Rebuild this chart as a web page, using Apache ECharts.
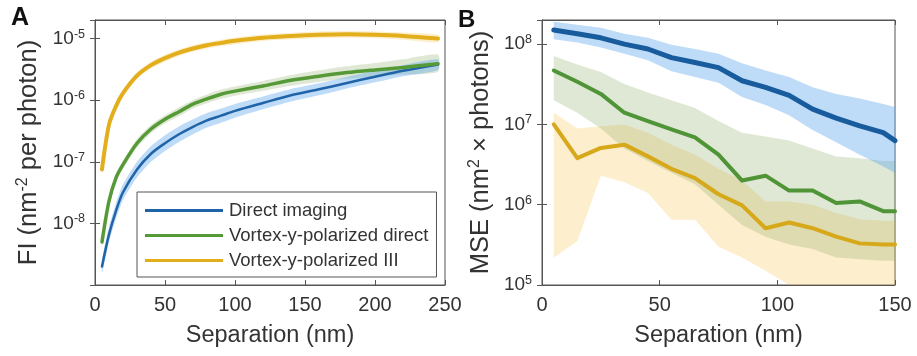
<!DOCTYPE html>
<html><head><meta charset="utf-8">
<script src="https://cdn.jsdelivr.net/npm/echarts@6/dist/echarts.min.js"></script>
<style>html,body{margin:0;padding:0;background:#fff}#c{width:917px;height:356px}</style>
</head><body><div id="c"></div>
<script>
// ---------- Panel A data ----------
const sepA = [5, 10, 15, 20, 30, 40, 50, 60, 70, 80, 90, 100, 120, 140, 160, 180, 200, 220, 245];
const fiDirect = [2e-9, 6.6e-9, 1.6e-8, 3.2e-8, 7.5e-8, 1.35e-7, 2e-7, 2.8e-7, 3.7e-7, 4.7e-7, 5.6e-7, 6.7e-7, 9e-7, 1.2e-6, 1.5e-6, 1.9e-6, 2.4e-6, 3.0e-6, 3.8e-6];
const fiDirectLo = [1.55e-9, 5.0e-9, 1.2e-8, 2.4e-8, 5.6e-8, 1.0e-7, 1.5e-7, 2.1e-7, 2.8e-7, 3.6e-7, 4.3e-7, 5.2e-7, 7.1e-7, 9.5e-7, 1.2e-6, 1.55e-6, 1.95e-6, 2.45e-6, 3.1e-6];
const fiDirectHi = [2.6e-9, 8.8e-9, 2.15e-8, 4.3e-8, 1.0e-7, 1.8e-7, 2.7e-7, 3.75e-7, 4.9e-7, 6.2e-7, 7.3e-7, 8.7e-7, 1.15e-6, 1.52e-6, 1.88e-6, 2.38e-6, 3.0e-6, 3.7e-6, 4.6e-6];
const fiVortexDirect = [5e-9, 2.3e-8, 5.5e-8, 9e-8, 2e-7, 3.4e-7, 4.9e-7, 6.5e-7, 8.6e-7, 1.05e-6, 1.25e-6, 1.4e-6, 1.7e-6, 2.1e-6, 2.45e-6, 2.8e-6, 3.1e-6, 3.4e-6, 3.9e-6];
const fiVortexDirectLo = [4.2e-9, 1.95e-8, 4.7e-8, 7.7e-8, 1.7e-7, 2.9e-7, 4.2e-7, 5.5e-7, 7.3e-7, 8.9e-7, 1.05e-6, 1.18e-6, 1.42e-6, 1.72e-6, 1.98e-6, 2.22e-6, 2.42e-6, 2.6e-6, 2.9e-6];
const fiVortexDirectHi = [6e-9, 2.7e-8, 6.4e-8, 1.05e-7, 2.35e-7, 4e-7, 5.7e-7, 7.7e-7, 1.01e-6, 1.24e-6, 1.49e-6, 1.67e-6, 2.05e-6, 2.55e-6, 3.05e-6, 3.55e-6, 4.0e-6, 4.6e-6, 5.5e-6];
const fiVortexIII = [7.5e-8, 4e-7, 8e-7, 1.3e-6, 2.5e-6, 3.7e-6, 4.8e-6, 5.9e-6, 6.9e-6, 7.8e-6, 8.5e-6, 9.2e-6, 1.03e-5, 1.1e-5, 1.15e-5, 1.17e-5, 1.15e-5, 1.1e-5, 1.0e-5];
const fiVortexIIILo = [6.5e-8, 3.5e-7, 7e-7, 1.15e-6, 2.2e-6, 3.25e-6, 4.2e-6, 5.2e-6, 6.1e-6, 6.9e-6, 7.5e-6, 8.1e-6, 9.1e-6, 9.7e-6, 1.01e-5, 1.03e-5, 1.01e-5, 9.6e-6, 8.7e-6];
const fiVortexIIIHi = [8.6e-8, 4.6e-7, 9.1e-7, 1.48e-6, 2.85e-6, 4.2e-6, 5.45e-6, 6.7e-6, 7.8e-6, 8.8e-6, 9.6e-6, 1.04e-5, 1.16e-5, 1.24e-5, 1.3e-5, 1.32e-5, 1.3e-5, 1.25e-5, 1.15e-5];

// ---------- Panel B data ----------
const sepB = [5, 15, 25, 35, 45, 55, 65, 75, 85, 95, 105, 115, 125, 135, 145, 150];
const mseDirect = [1.5e8, 1.35e8, 1.2e8, 1.0e8, 8.7e7, 6.8e7, 5.9e7, 5.1e7, 3.5e7, 2.9e7, 2.3e7, 1.55e7, 1.2e7, 9.6e6, 7.9e6, 6.3e6];
const mseDirectLo = [1.15e8, 1.05e8, 9.1e7, 7.6e7, 6.3e7, 4.6e7, 3.9e7, 3.3e7, 2.2e7, 1.75e7, 1.3e7, 8.5e6, 6.0e6, 4.2e6, 3.0e6, 2.5e6];
const mseDirectHi = [1.9e8, 1.75e8, 1.6e8, 1.35e8, 1.2e8, 9.8e7, 8.7e7, 7.6e7, 5.8e7, 4.7e7, 3.9e7, 2.9e7, 2.4e7, 2.1e7, 1.8e7, 1.65e7];
const mseVortexDirect = [4.7e7, 3.4e7, 2.4e7, 1.4e7, 1.1e7, 8.7e6, 6.9e6, 4.2e6, 2.0e6, 2.3e6, 1.5e6, 1.5e6, 1.05e6, 1.1e6, 8.3e5, 8.3e5];
const mseVortexDirectLo = [2.0e7, 1.4e7, 8.9e6, 5.0e6, 3.5e6, 2.5e6, 1.8e6, 1.0e6, 5.6e5, 4.0e5, 3.2e5, 2.8e5, 2.2e5, 2.1e5, 2.0e5, 2.0e5];
const mseVortexDirectHi = [7.1e7, 5.6e7, 4.5e7, 3.2e7, 2.5e7, 2.0e7, 1.6e7, 1.1e7, 7.9e6, 7.1e6, 6.3e6, 5.0e6, 4.0e6, 3.8e6, 3.5e6, 3.5e6];
const mseVortexIII = [1.0e7, 3.8e6, 5.1e6, 5.6e6, 4.0e6, 2.8e6, 2.15e6, 1.35e6, 9.8e5, 5.1e5, 6.0e5, 5.1e5, 4.0e5, 3.3e5, 3.2e5, 3.2e5];
const mseVortexIIILo = [2.2e5, 3.5e5, 2.3e6, 1.9e6, 1.4e6, 6.5e5, 6.5e5, 3.0e5, 2.2e5, 1.5e5, 1e5, 1e5, 1e5, 1e5, 1e5, 1e5];
const mseVortexIIIHi = [1.4e7, 8.9e6, 9.5e6, 1.0e7, 7.9e6, 5.6e6, 4.2e6, 2.8e6, 2.0e6, 1.1e6, 1.1e6, 1.0e6, 7.9e5, 6.6e5, 6.3e5, 6.3e5];

// ---------- labels ----------
const legendNames = ['Direct imaging', 'Vortex-y-polarized direct', 'Vortex-y-polarized III'];
const xTitle = 'Separation (nm)';
const yTitleA = 'FI (nm{s|-2} per photon)';
const yTitleB = 'MSE (nm{s|2} \u00d7 photons)';

// ---------- styling ----------
const FONT = 'Liberation Sans, Arial, sans-serif';
const TXT = '#333';
const AXC = '#555';
const C = {
  blue: '#1f64a8', green: '#559a36', yellow: '#e2ae1c',
  blueBand: 'rgba(100,170,235,0.42)', greenBand: 'rgba(120,160,80,0.24)', yellowBand: 'rgba(250,200,90,0.30)'
};

function pairs(xs, ys) { return xs.map((x, i) => [x, ys[i]]); }

// band drawn as a single polygon through the axis scales (api.coord)
function band(id, xs, lo, hi, color, xi, yi, smooth) {
  return {
    type: 'custom', name: id, xAxisIndex: xi, yAxisIndex: yi, silent: true, z: 1, clip: true,
    data: xs.map((x, i) => [x, lo[i], hi[i]]),
    encode: { x: 0, y: [1, 2] },
    renderItem: function (params, api) {
      if (params.dataIndex !== 0) return null;
      const top = xs.map((x, i) => api.coord([x, hi[i]]));
      const bot = xs.map((x, i) => api.coord([x, lo[i]])).reverse();
      return {
        type: 'polygon',
        shape: { points: top.concat(bot), smooth: smooth },
        style: { fill: color, stroke: null },
        clipPath: { type: 'rect', shape: { x: params.coordSys.x, y: params.coordSys.y, width: params.coordSys.width, height: params.coordSys.height } }
      };
    }
  };
}
function line(name, xs, ys, color, width, xi, yi, smooth) {
  return { type: 'line', name: name, xAxisIndex: xi, yAxisIndex: yi, data: pairs(xs, ys), symbol: 'none',
    smooth: smooth, color: color, lineStyle: { color: color, width: width, cap: 'round', join: 'round' }, z: 3 };
}

const supRich = {
  b: { fontSize: 19, color: TXT, fontFamily: FONT },
  s: { fontSize: 12.5, color: TXT, fontFamily: FONT, verticalAlign: 'bottom', padding: [0, 0, 9, 0] }
};
function expLabel(v) {
  const e = Math.round(Math.log10(v));
  return '{b|10}{s|' + e + '}';
}

function xMain(grid, max) {
  return { type: 'value', gridIndex: grid, min: 0, max: max, interval: 50, position: 'bottom',
    name: xTitle, nameLocation: 'middle', nameGap: 39,
    nameTextStyle: { fontSize: 23.5, color: TXT, fontFamily: FONT },
    axisLine: { show: true, lineStyle: { color: AXC, width: 1 } },
    axisTick: { show: true, inside: true, length: 5, lineStyle: { color: AXC } },
    axisLabel: { fontSize: 20, color: TXT, fontFamily: FONT, margin: 10 },
    splitLine: { show: false } };
}
function xTop(grid, max) {
  return { type: 'value', gridIndex: grid, min: 0, max: max, interval: 50, position: 'top',
    axisLine: { show: true, lineStyle: { color: AXC, width: 1 } },
    axisTick: { show: true, inside: true, length: 5, lineStyle: { color: AXC } },
    axisLabel: { show: false }, splitLine: { show: false } };
}
function yMain(grid, min, max, title, gap) {
  return { type: 'log', logBase: 10, gridIndex: grid, min: min, max: max, position: 'left',
    name: title, nameLocation: 'middle', nameGap: gap,
    nameTextStyle: { fontSize: 25.5, color: TXT, fontFamily: FONT,
      rich: { s: { fontSize: 16, color: TXT, fontFamily: FONT, verticalAlign: 'bottom', padding: [0, 0, 12, 0] } } },
    axisLine: { show: true, lineStyle: { color: AXC, width: 1 } },
    axisTick: { show: true, inside: true, length: 5, lineStyle: { color: AXC } },
    axisLabel: { formatter: expLabel, rich: supRich, margin: 10, showMinLabel: min >= 1e5, showMaxLabel: false },
    splitLine: { show: false } };
}
function yRight(grid, min, max) {
  return { type: 'log', logBase: 10, gridIndex: grid, min: min, max: max, position: 'right',
    axisLine: { show: true, lineStyle: { color: AXC, width: 1 } },
    axisTick: { show: true, inside: true, length: 5, lineStyle: { color: AXC } },
    axisLabel: { show: false }, splitLine: { show: false } };
}

const series = [
  band('bandAyellow', sepA, fiVortexIIILo, fiVortexIIIHi, C.yellowBand, 0, 0, 0.2),
  band('bandAgreen', sepA, fiVortexDirectLo, fiVortexDirectHi, C.greenBand, 0, 0, 0.2),
  band('bandAblue', sepA, fiDirectLo, fiDirectHi, C.blueBand, 0, 0, 0.2),
  line(legendNames[0], sepA, fiDirect, C.blue, 2.5, 0, 0, 0.3),
  line(legendNames[1], sepA, fiVortexDirect, C.green, 3.5, 0, 0, 0.3),
  line(legendNames[2], sepA, fiVortexIII, C.yellow, 4, 0, 0, 0.3),
  band('bandByellow', sepB, mseVortexIIILo, mseVortexIIIHi, C.yellowBand, 2, 2, 0),
  band('bandBgreen', sepB, mseVortexDirectLo, mseVortexDirectHi, C.greenBand, 2, 2, 0),
  band('bandBblue', sepB, mseDirectLo, mseDirectHi, C.blueBand, 2, 2, 0),
  line('B ' + legendNames[2], sepB, mseVortexIII, '#d6a81a', 4, 2, 2, false),
  line('B ' + legendNames[1], sepB, mseVortexDirect, '#4f9436', 4, 2, 2, false),
  line('B ' + legendNames[0], sepB, mseDirect, '#185c9e', 5, 2, 2, false)
];

const option = {
  animation: false,
  backgroundColor: '#fff',
  grid: [
    { left: 95, top: 20, width: 350, height: 265, show: true, borderColor: AXC, borderWidth: 1, backgroundColor: 'transparent' },
    { left: 542, top: 20, width: 353, height: 265, show: true, borderColor: AXC, borderWidth: 1, backgroundColor: 'transparent' }
  ],
  xAxis: [xMain(0, 250), xTop(0, 250), xMain(1, 150), xTop(1, 150)],
  yAxis: [yMain(0, 1e-9, 2e-5, yTitleA, 52), yRight(0, 1e-9, 2e-5), yMain(1, 1e5, 2e8, yTitleB, 47), yRight(1, 1e5, 2e8)],
  legend: {
    data: legendNames, orient: 'vertical', left: 137, top: 192,
    backgroundColor: '#fff', borderColor: AXC, borderWidth: 1, padding: [9, 8, 7, 8],
    itemGap: 6, itemWidth: 78, itemHeight: 3, icon: 'rect',
    textStyle: { fontSize: 18.5, color: TXT, fontFamily: FONT, padding: [0, 0, 0, 1] },
    selectedMode: false
  },
  graphic: [
    { type: 'text', left: 11, top: 6, style: { text: 'A', fontSize: 25, fontWeight: 'bold', fill: '#111', fontFamily: FONT } },
    { type: 'text', left: 458, top: 8, style: { text: 'B', fontSize: 24, fontWeight: 'bold', fill: '#111', fontFamily: FONT } }
  ],
  series: series
};
const chart = echarts.init(document.getElementById('c'));
chart.setOption(option);
</script>
</body></html>
